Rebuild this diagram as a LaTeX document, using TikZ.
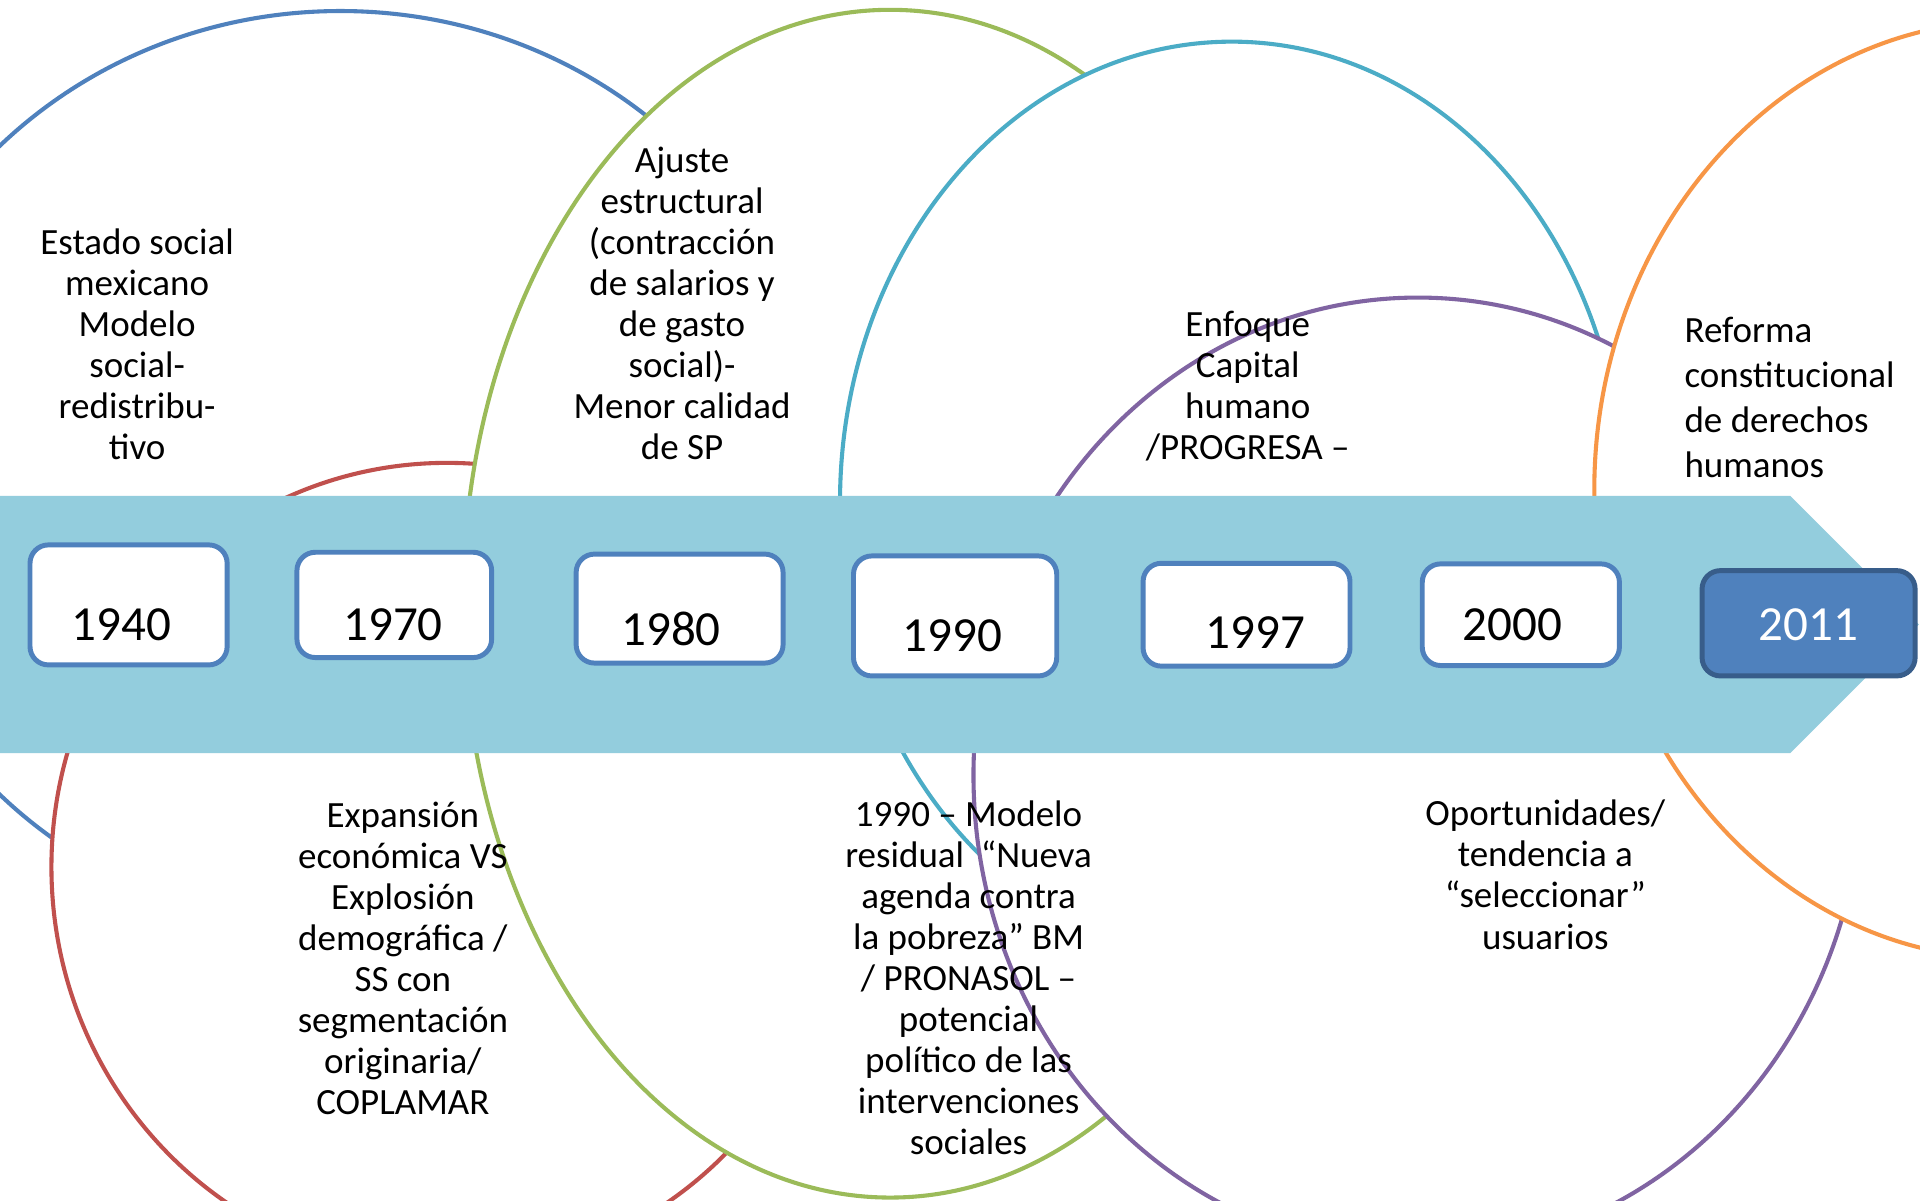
\documentclass[tikz,border=0pt]{standalone}
\usepackage{fontspec}
\setmainfont{Carlito}
\usepackage{tikz}
\definecolor{bandblue}{RGB}{147,205,221}
\definecolor{boxblue}{RGB}{79,129,189}
\definecolor{boxdark}{RGB}{56,93,138}
\definecolor{ringred}{RGB}{192,80,77}
\definecolor{ringgreen}{RGB}{155,187,89}
\definecolor{ringcyan}{RGB}{75,172,198}
\definecolor{ringpurple}{RGB}{128,100,162}
\definecolor{ringorange}{RGB}{247,150,70}

\begin{document}
\begin{tikzpicture} [scale = 1,
  ring/.style = {fill = white, line width = 0.95pt},
  yearbox/.style = {draw = boxblue, fill = white, line width = 1.15pt, rounded corners = 0.15cm, inner sep = 0pt},
  lastbox/.style = {yearbox, draw = boxdark, fill = boxblue},
  yeartext/.style = {inner sep = 0pt, font = \fontsize{11.4pt}{13pt}\selectfont},
  note/.style = {align = center, anchor = base, inner sep = 0pt, font = \fontsize{8.6pt}{9.53pt}\selectfont}]
\useasboundingbox (0.0, 0.0) rectangle (15.68, 9.80);
\clip (0.0, 0.0) rectangle (15.68, 9.80);
\draw[ring, draw = boxblue] (2.78, 5.96) ellipse [x radius = 3.93, y radius = 3.75];
\draw[ring, draw = ringred] (3.65, 2.72) ellipse [x radius = 3.23, y radius = 3.30];
\draw[ring, draw = ringgreen] (7.27, 4.87) ellipse [x radius = 3.49, y radius = 4.85];
\draw[ring, draw = ringcyan] (10.06, 5.70) ellipse [x radius = 3.20, y radius = 3.76];
\draw[ring, draw = ringpurple] (11.58, 3.47) ellipse [x radius = 3.63, y radius = 3.90];
\draw[ring, draw = ringorange] (16.42, 5.80) ellipse [x radius = 3.40, y radius = 3.83];
\fill[bandblue] (0.0, 3.65) -- (14.62, 3.65) -- (15.67, 4.70) -- (14.62, 5.75) -- (0.0, 5.75) -- cycle;
\node[yearbox, minimum width = 1.61cm, minimum height = 0.98cm] (box1940) at (1.05, 4.86) {};
\node[yearbox, minimum width = 1.59cm, minimum height = 0.86cm] (box1970) at (3.22, 4.86) {};
\node[yearbox, minimum width = 1.69cm, minimum height = 0.89cm] (box1980) at (5.55, 4.83) {};
\node[yearbox, minimum width = 1.66cm, minimum height = 0.98cm] (box1990) at (7.80, 4.77) {};
\node[yearbox, minimum width = 1.69cm, minimum height = 0.84cm] (box1997) at (10.18, 4.78) {};
\node[yearbox, minimum width = 1.61cm, minimum height = 0.83cm] (box2000) at (12.42, 4.78) {};
\node[lastbox, minimum width = 1.74cm, minimum height = 0.86cm] (box2011) at (14.77, 4.71) {};
\node[yeartext] (year1940) at (0.99, 4.70) {1940};
\node[yeartext] (year1970) at (3.21, 4.70) {1970};
\node[yeartext] (year1980) at (5.48, 4.66) {1980};
\node[yeartext] (year1990) at (7.78, 4.61) {1990};
\node[yeartext] (year1997) at (10.25, 4.63) {1997};
\node[yeartext] (year2000) at (12.35, 4.70) {2000};
\node[yeartext, text = white] (year2011) at (14.77, 4.70) {2011};
\node[note] (estado) at (1.12, 6.05) {Estado social\\mexicano\\Modelo\\social-\\redistribu-\\tivo};
\node[note] (ajuste) at (5.57, 6.05) {Ajuste\\estructural\\(contracción\\de salarios y\\de gasto\\social)-\\Menor calidad\\de SP};
\node[note] (enfoque) at (10.19, 6.05) {Enfoque\\Capital\\humano\\/PROGRESA –};
\node[note, align = left, anchor = base west, font = \fontsize{8.6pt}{10.44pt}\selectfont] (reforma) at (13.75, 5.90) {Reforma\\constitucional\\de derechos\\humanos};
\node[note] (expansion) at (3.29, 0.70) {Expansión\\económica VS\\Explosión\\demográfica /\\SS con\\segmentación\\originaria/\\COPLAMAR};
\node[note] (modelo) at (7.91, 0.37) {1990 – Modelo\\residual~ “Nueva\\agenda contra\\la pobreza” BM\\/ PRONASOL –\\potencial\\político de las\\intervenciones\\sociales};
\node[note] (oportunidades) at (12.62, 2.05) {Oportunidades/\\tendencia a\\“seleccionar”\\usuarios};
\end{tikzpicture}
\end{document}
